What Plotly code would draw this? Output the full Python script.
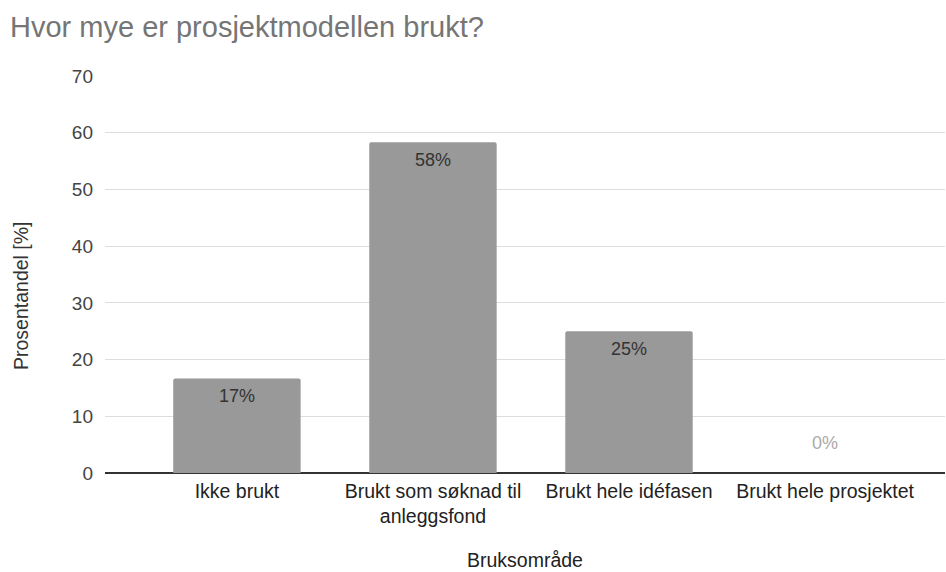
import plotly.graph_objects as go

# Survey results: share of respondents per usage area
categories = [
    "Ikke brukt",
    "Brukt som søknad til<br>anleggsfond",
    "Brukt hele idéfasen",
    "Brukt hele prosjektet",
]
shares = [16.67, 58.33, 25.0, 0.0]
y_ticks = [0, 10, 20, 30, 40, 50, 60, 70]

FONT = "Arial, 'Liberation Sans', sans-serif"
BAR_COLOR = "#999999"
W, H = 946, 572

fig = go.Figure()
fig.add_trace(
    go.Bar(
        x=list(range(len(categories))),
        y=shares,
        marker=dict(color=BAR_COLOR, line=dict(width=0), cornerradius=2),
        width=0.65,
        hoverinfo="skip",
    )
)

# Percentage labels: inside near the top of each bar, gray above the axis for empty bars
for i, v in enumerate(shares):
    if v > 0:
        fig.add_annotation(
            x=i, y=v, text=f"{round(v)}%", showarrow=False,
            yanchor="middle", yshift=-18,
            font=dict(family=FONT, size=18, color="#333333"),
        )
    else:
        fig.add_annotation(
            x=i, y=v, text=f"{round(v)}%", showarrow=False,
            yanchor="middle", yshift=30,
            font=dict(family=FONT, size=18, color="#aaaaaa"),
        )

# Axis titles
fig.add_annotation(
    text="Bruksområde", showarrow=False,
    xref="paper", x=0.5, xanchor="center",
    yref="paper", y=-(560 - 473) / (473 - 76), yanchor="middle",
    font=dict(family=FONT, size=19.5, color="#222222"),
)
fig.add_annotation(
    text="Prosentandel [%]", showarrow=False, textangle=-90,
    xref="paper", x=-(105 - 21) / (945 - 105), xanchor="center",
    yref="paper", y=0.5 - (296 - 274.5) / (473 - 76), yanchor="middle",
    font=dict(family=FONT, size=19.5, color="#333333"),
)

fig.update_layout(
    width=W,
    height=H,
    margin=dict(l=105, r=1, t=76, b=99),
    paper_bgcolor="white",
    plot_bgcolor="white",
    showlegend=False,
    font=dict(family=FONT, size=19.5, color="#222222"),
    title=dict(
        text="Hvor mye er prosjektmodellen brukt?",
        x=10 / W, xanchor="left", xref="container",
        y=1 - 27 / H, yanchor="middle", yref="container",
        font=dict(family=FONT, size=29, color="#757575"),
    ),
    xaxis=dict(
        range=[-0.673, 3.612],
        tickmode="array",
        tickvals=list(range(len(categories))),
        ticktext=categories,
        showgrid=False,
        showline=False,
        zeroline=False,
        ticks="",
        ticklabelstandoff=4,
        tickfont=dict(family=FONT, size=19.5, color="#222222"),
        fixedrange=True,
    ),
    yaxis=dict(
        range=[0, 70],
        tickmode="array",
        tickvals=y_ticks,
        ticktext=[str(t) for t in y_ticks],
        showgrid=True,
        gridcolor="#dddddd",
        gridwidth=1,
        zeroline=True,
        zerolinecolor="#333333",
        zerolinewidth=1.5,
        showline=False,
        ticks="",
        ticklabelstandoff=11,
        tickfont=dict(family=FONT, size=19, color="#444444"),
        fixedrange=True,
    ),
)

fig.write_html("out.html")
